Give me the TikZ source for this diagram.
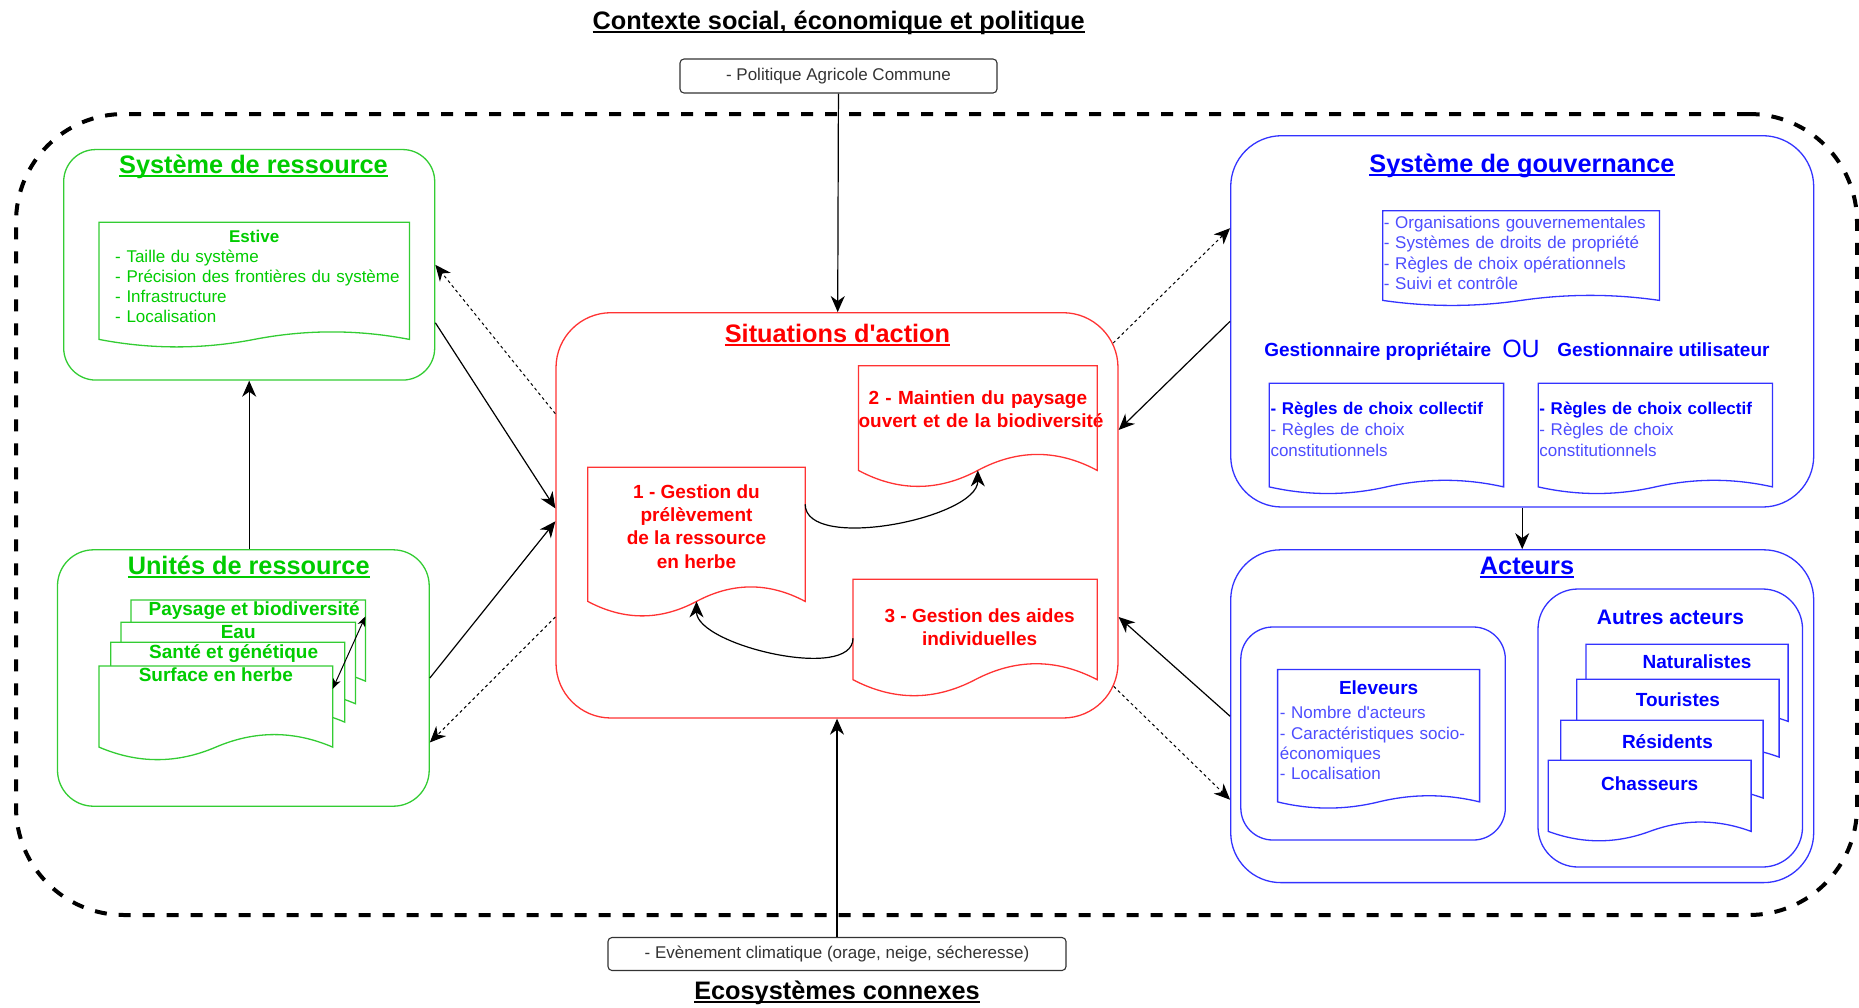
\documentclass[tikz,border=0pt]{standalone}
\usepackage{fontspec}
\setmainfont{Liberation Sans}
\usetikzlibrary{arrows.meta,calc}

\definecolor{grn}{HTML}{00CC00}
\definecolor{grnline}{HTML}{33CC33}
\definecolor{rd}{HTML}{FF0000}
\definecolor{rdline}{HTML}{FF3333}
\definecolor{blu}{HTML}{0000FF}
\definecolor{lblu}{HTML}{4D4DFF}
\definecolor{bluline}{HTML}{3333FF}
\definecolor{drk}{HTML}{333333}

\newcommand{\fsz}[2]{\fontsize{#1}{#2}\selectfont}
\newcommand{\ulin}[1]{\setbox0\hbox{#1}\rlap{\rule[-3.2pt]{\wd0}{1.8pt}}\box0}
% wavy bottom of a document shape hung under a node: node, drop, wave height
\newcommand{\docwave}[4][]{%
  \fill[white] let \p1=(#2.south west), \p2=(#2.south east) in
    (\p1) -- (\p2) -- (\x2,\y2-#3)
    .. controls ({\x1+0.8333*(\x2-\x1)},{\y2-#3+#4}) and ({\x1+0.6667*(\x2-\x1)},{\y2-#3+#4}) .. ({0.5*(\x1+\x2)},{\y2-#3})
    .. controls ({\x1+0.3333*(\x2-\x1)},{\y2-#3-#4}) and ({\x1+0.1667*(\x2-\x1)},{\y2-#3-#4}) .. (\x1,\y2-#3) -- cycle;
  \draw[#1] let \p1=(#2.south west), \p2=(#2.south east), \p3=(#2.north west) in
    (\x1,\y3) -- (\x2,\y3) -- (\x2,\y2-#3)
    .. controls ({\x1+0.8333*(\x2-\x1)},{\y2-#3+#4}) and ({\x1+0.6667*(\x2-\x1)},{\y2-#3+#4}) .. ({0.5*(\x1+\x2)},{\y2-#3})
    .. controls ({\x1+0.3333*(\x2-\x1)},{\y2-#3-#4}) and ({\x1+0.1667*(\x2-\x1)},{\y2-#3-#4}) .. (\x1,\y2-#3) -- cycle;
}

\begin{document}
\begin{tikzpicture}[x=1pt,y=-1pt,
  every node/.style={inner sep=0pt},
  zone/.style={draw, line width=1.3pt, rounded corners=#1},
  perim/.style={draw, line width=4pt, dash pattern=on 12pt off 12pt, rounded corners=108pt},
  ext/.style={draw=drk, line width=1.1pt, rounded corners=4pt, text=drk, font=\fsz{17}{20.4}},
  ttl/.style={font=\fsz{25.3}{30}\bfseries, anchor=base},
  gttl/.style={ttl, text=grn},
  rttl/.style={ttl, text=rd},
  bttl/.style={ttl, text=blu},
  blbl/.style={text=blu, font=\fsz{19}{23}\bfseries, anchor=base},
  doc/.style={anchor=north west, fill=white},
  glist/.style={doc, text=grn, font=\fsz{17}{20}, align=left},
  blist/.style={doc, text=lblu, font=\fsz{17}{20.4}, align=left},
  rdoc/.style={doc, text=rd, font=\fsz{19}{23.4}\bfseries, align=center},
  gstack/.style={doc, text=grn, font=\fsz{19}{23}\bfseries, text height=14pt, text depth=5pt, inner ysep=1.7pt, align=center},
  bstack/.style={doc, text=blu, font=\fsz{19}{23}\bfseries, text height=14pt, text depth=5pt, align=center},
  gline/.style={draw=grnline, line width=1.3pt},
  rline/.style={draw=rdline, line width=1.3pt},
  bline/.style={draw=bluline, line width=1.3pt},
  arr/.style={line width=1.2pt, -{Stealth[length=16pt,width=14pt,inset=5pt]}},
  darr/.style={arr, line width=1pt, dash pattern=on 3pt off 3pt},
  sarr/.style={line width=1pt, {Stealth[length=10pt,width=8pt,inset=3pt]}-{Stealth[length=10pt,width=8pt,inset=3pt]}}]
  \useasboundingbox (0,0) rectangle (1859,1007);
  \node[ttl] (contexte) at (838.7,29.3) {\ulin{Contexte social, économique et politique}};
  \node[ext, minimum width=317pt, minimum height=34pt] (pac) at (838.5,76) {- Politique Agricole Commune};
  \node[perim, minimum width=1841pt, minimum height=801pt] (sess) at (936.5,514.5) {};
  \node[ext, minimum width=458pt, minimum height=33pt] (eco) at (837,954) {- Evènement climatique (orage, neige, sécheresse)};
  \node[ttl] (ecotitre) at (837,999.5) {\ulin{Ecosystèmes connexes}};

  \node[zone=32pt, draw=grnline, minimum width=371pt, minimum height=230.5pt] (sysres) at (249.2,264.8) {};
  \node[gttl] (sysrestitre) at (253.5,173.3) {\ulin{Système de ressource}};
  \node[glist, inner xsep=16pt, text width=278pt, minimum height=108.4pt] (estive) at (99,222.3)
    {\centerline{\bfseries Estive}\par- Taille du système\\\mbox{- Précision des frontières du système}\\- Infrastructure\\- Localisation};
  \docwave[gline]{estive}{8.3pt}{10pt}

  \node[zone=36pt, draw=grnline, minimum width=371.7pt, minimum height=256.4pt] (unites) at (243.35,678) {};
  \node[gttl] (unitestitre) at (248.7,574.5) {\ulin{Unités de ressource}};
  \node[gstack, minimum width=234pt] (paysage) at (131,600) {\hspace*{12pt}Paysage et biodiversité};
  \docwave[gline]{paysage}{58.3pt}{16.7pt}
  \node[gstack, minimum width=234pt] (eau) at (121,622.3) {Eau};
  \docwave[gline]{eau}{58.6pt}{16.7pt}
  \node[gstack, minimum width=233.6pt] (sante) at (110.7,642.3) {\hspace*{12pt}Santé et génétique};
  \docwave[gline]{sante}{57pt}{16.7pt}
  \node[gstack, minimum width=233.3pt] (surface) at (99,666) {Surface en herbe};
  \docwave[gline]{surface}{58.3pt}{16.7pt}

  \node[zone=55pt, draw=rdline, minimum width=562pt, minimum height=405.3pt] (situ) at (837,515.35) {};
  \node[rttl] (situtitre) at (837.5,342.7) {\ulin{Situations d\textquotesingle action}};
  \node[rdoc, minimum width=217pt, minimum height=117.6pt] (prelev) at (587.8,467.3) {1 - Gestion du\\prélèvement\\de la ressource\\en herbe};
  \docwave[rline]{prelev}{16.1pt}{19.3pt}
  \node[rdoc, text width=238.4pt, minimum height=86.5pt] (paysouv) at (858.4,365.7) {2 - Maintien du paysage\\\mbox{ouvert et de la biodiversité}};
  \docwave[rline]{paysouv}{17.8pt}{21.3pt}
  \node[rdoc, minimum width=243.8pt, minimum height=95.5pt] (aides) at (853,579.3) {\hspace*{9pt}3 - Gestion des aides\\\hspace*{9pt}individuelles};
  \docwave[rline]{aides}{4.5pt}{21.3pt}

  \node[zone=51pt, draw=bluline, minimum width=583pt, minimum height=371.3pt] (gouv) at (1522.2,321.35) {};
  \node[bttl] (gouvtitre) at (1522,172.7) {\ulin{Système de gouvernance}};
  \node[blist, inner xsep=1pt, text width=274.3pt, minimum height=83.7pt] (orga) at (1382.7,210.7)
    {- Organisations gouvernementales\\- Systèmes de droits de propriété\\- Règles de choix opérationnels\\- Suivi et contrôle};
  \docwave[bline]{orga}{5.6pt}{6.7pt}
  \node[blbl] (proprio) at (1377.8,356) {Gestionnaire propriétaire};
  \node[blbl, font=\fsz{25}{28}] (ou) at (1521,357) {OU};
  \node[blbl] (usager) at (1663.4,356) {Gestionnaire utilisateur};
  \node[blist, inner xsep=1pt, text width=231.9pt, minimum height=91pt, font=\fsz{17}{21}] (regles1) at (1269.3,383.2)
    {\textbf{\color{blu}- Règles de choix collectif}\\- Règles de choix\\constitutionnels};
  \docwave[bline]{regles1}{12.3pt}{8.8pt}
  \node[blist, inner xsep=1pt, text width=231.9pt, minimum height=91pt, font=\fsz{17}{21}] (regles2) at (1538.2,383.2)
    {\textbf{\color{blu}- Règles de choix collectif}\\- Règles de choix\\constitutionnels};
  \docwave[bline]{regles2}{12.3pt}{8.8pt}

  \node[zone=50pt, draw=bluline, minimum width=583pt, minimum height=332.8pt] (acteurs) at (1522.2,716.2) {};
  \node[bttl] (acteurstitre) at (1527,574.5) {\ulin{Acteurs}};
  \node[zone=32pt, draw=bluline, minimum width=264.5pt, minimum height=213pt] (eleveursbox) at (1373.05,733.5) {};
  \node[blist, inner xsep=2pt, text width=197.6pt, minimum height=121.2pt] (eleveurs) at (1277.6,669.5)
    {\centerline{\color{blu}\fsz{19}{23}\bfseries Eleveurs}\vskip4pt- Nombre d\textquotesingle acteurs\\- Caractéristiques socio-\\économiques\\- Localisation};
  \docwave[bline]{eleveurs}{10.8pt}{8.2pt}
  \node[zone=40pt, draw=bluline, minimum width=264.5pt, minimum height=278pt] (autresbox) at (1670.25,728) {};
  \node[blbl, font=\fsz{21}{25}\bfseries] (autrestitre) at (1670.5,624.5) {Autres acteurs};
  \node[bstack, inner ysep=10.2pt, minimum width=201.7pt] (natur) at (1586,644.3) {\hspace*{20pt}Naturalistes};
  \docwave[bline]{natur}{37.3pt}{12.5pt}
  \node[bstack, inner ysep=12.5pt, minimum width=202pt] (tour) at (1576.7,679.3) {Touristes};
  \docwave[bline]{tour}{33.4pt}{12.5pt}
  \node[bstack, inner ysep=14.2pt, minimum width=202pt] (resid) at (1560.7,720.3) {\hspace*{11pt}Résidents};
  \docwave[bline]{resid}{30pt}{12.5pt}
  \node[bstack, inner ysep=15.7pt, minimum width=202.4pt] (chass) at (1548.3,760.3) {Chasseurs};
  \docwave[bline]{chass}{20.3pt}{12.5pt}

  \draw[arr] (pac) -- (situ);
  \draw[arr] (eco) -- (situ);
  \draw[arr] (unites.north -| sysres.south) -- (sysres.south);
  \draw[arr] ($(sysres.east)!0.5!(sysres.south east)$) -- ([yshift=7pt]situ.west);
  \draw[darr] ($(situ.west)!0.5!(situ.north west)$) -- (sysres.east);
  \draw[arr] (unites.east) -- ([yshift=-6pt]situ.west);
  \draw[darr] ($(situ.west)!0.5!(situ.south west)$) -- ($(unites.east)!0.5!(unites.south east)$);
  \draw[darr] ($(situ.north east)+(-5.5,31)$) -- ($(gouv.west)!0.5!(gouv.north west)$);
  \draw[arr] (gouv.west) -- ($(situ.north east)!0.29!(situ.south east)$);
  \draw[arr] (acteurs.west) -- ($(situ.east)!0.5!(situ.south east)$);
  \draw[darr] ($(situ.south east)+(-5,-32.3)$) -- ($(acteurs.west)!0.5!(acteurs.south west)$);
  \draw[arr] (gouv) -- (acteurs);
  \draw[arr] ([yshift=22pt]prelev.east) to[out=-90,in=-90,looseness=0.7] ([yshift=-17.8pt]paysouv.south);
  \draw[arr] ([yshift=-11pt]aides.west) to[out=-90,in=-90,looseness=0.7] ([yshift=-16.1pt]prelev.south);
  \draw[sarr] ([yshift=-5pt]paysage.east) -- (surface.south east);
\end{tikzpicture}
\end{document}
